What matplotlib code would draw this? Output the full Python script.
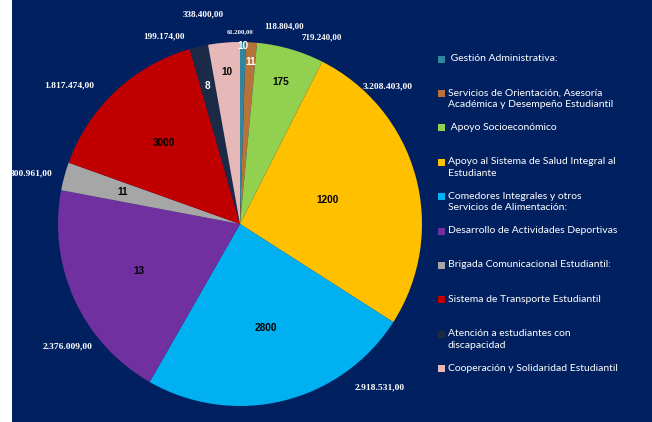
import numpy as np
import matplotlib
matplotlib.use("Agg")
import matplotlib.pyplot as plt
from matplotlib.patches import Rectangle

# data
categories = [
    " Gestión Administrativa:",
    "Servicios de Orientación, Asesoría\nAcadémica y Desempeño Estudiantil",
    " Apoyo Socioeconómico",
    "Apoyo al Sistema de Salud Integral al\nEstudiante",
    "Comedores Integrales y otros\nServicios de Alimentación:",
    "Desarrollo de Actividades Deportivas",
    "Brigada Comunicacional Estudiantil:",
    "Sistema de Transporte Estudiantil",
    "Atención a estudiantes con\ndiscapacidad",
    "Cooperación y Solidaridad Estudiantil",
]
amounts = [61200.00, 118804.00, 719240.00, 3208403.00, 2918531.00,
           2376009.00, 300961.00, 1817474.00, 199174.00, 338400.00]
amount_labels = ["61.200,00", "118.804,00", "719.240,00", "3.208.403,00", "2.918.531,00",
                 "2.376.009,00", "300.961,00", "1.817.474,00", "199.174,00", "338.400,00"]
counts = ["10", "11", "175", "1200", "2800", "13", "11", "3000", "8", "10"]

colors = ["#31859C", "#B8733A", "#92D050", "#FFC000", "#00B0F0",
          "#7030A0", "#A6A6A6", "#C00000", "#1B2A47", "#E6B9B8"]
count_colors = ["white", "white", "black", "black", "black",
                "black", "black", "black", "white", "black"]

# label layout (radius in pie units, angle clockwise from top in degrees)
count_r = [0.98, 0.89, 0.81, 0.50, 0.59, 0.61, 0.67, 0.61, 0.78, 0.84]
amount_pos = [(0, 1.06), (12.6, 1.11), (23.7, 1.12), (47, 1.11), (139.5, 1.18),
              (234.6, 1.16), (283.5, 1.18), (309, 1.21), (338, 1.11), (350, 1.17)]
amount_size = [4.8, 6.4, 6.4, 6.8, 6.8, 6.8, 6.8, 6.8, 6.6, 6.6]

BG = "#002060"
W, H = 652, 422

fig = plt.figure(figsize=(W / 100, H / 100), dpi=100)
fig.patch.set_facecolor("white")
fig.patches.append(Rectangle((12 / W, 0), 1 - 12 / W, 1, transform=fig.transFigure,
                             facecolor=BG, edgecolor="none", zorder=-1))

# pie axes: center (240, 224) px, radius 182 px
cx, cy, R = 240, 224, 182
ax = fig.add_axes([(cx - R) / W, (H - cy - R) / H, 2 * R / W, 2 * R / H])
ax.set_facecolor("none")
wedges, _ = ax.pie(amounts, colors=colors, startangle=90, counterclock=False,
                   wedgeprops=dict(linewidth=0))
ax.set_xlim(-1, 1)
ax.set_ylim(-1, 1)
ax.set_aspect("auto")
ax.axis("off")

for w, txt, tc, r in zip(wedges, counts, count_colors, count_r):
    mid = np.deg2rad((w.theta1 + w.theta2) / 2)
    ax.text(r * np.cos(mid), r * np.sin(mid), txt, ha="center", va="center",
            fontsize=7.2, fontweight="bold", color=tc, family="Liberation Sans")

for txt, (ang, r), fs in zip(amount_labels, amount_pos, amount_size):
    a = np.deg2rad(90 - ang)
    ax.text(r * np.cos(a), r * np.sin(a), txt, ha="center", va="center",
            fontsize=fs, fontweight="bold", color="white", family="Liberation Serif",
            clip_on=False)

# legend
for k, (lab, c) in enumerate(zip(categories, colors)):
    y = 59 + 34.4 * k
    fig.patches.append(Rectangle((437.5 / W, 1 - (y + 3.5) / H), 7 / W, 7 / H,
                                 transform=fig.transFigure, facecolor=c,
                                 edgecolor="none"))
    fig.text(448 / W, 1 - (y - 5) / H, lab, ha="left", va="top", fontsize=7.5,
             color="white", family="Lato", linespacing=1.35)

fig.savefig("out.png", dpi=100, facecolor=fig.get_facecolor())
